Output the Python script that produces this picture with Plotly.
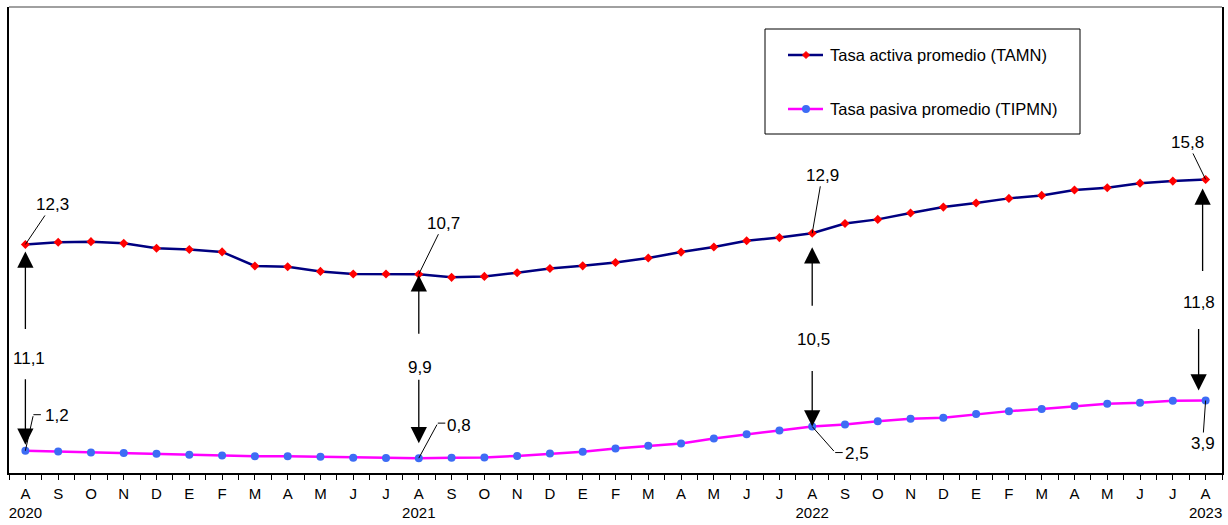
import plotly.graph_objects as go

# data
MONTHS = ["A", "S", "O", "N", "D", "E", "F", "M", "A", "M", "J", "J"] * 3 + ["A"]
YEARS = {0: "2020", 12: "2021", 24: "2022", 36: "2023"}

TAMN = [12.3, 12.42, 12.45, 12.36, 12.10, 12.03, 11.90, 11.14, 11.10, 10.85, 10.71, 10.71,
        10.7, 10.53, 10.58, 10.78, 11.01, 11.15, 11.33, 11.57, 11.89, 12.16, 12.50, 12.67,
        12.9, 13.43, 13.65, 13.99, 14.31, 14.53, 14.78, 14.94, 15.23, 15.35, 15.60, 15.71,
        15.8]
TIPMN = [1.2, 1.16, 1.11, 1.07, 1.03, 0.98, 0.94, 0.90, 0.90, 0.87, 0.82, 0.81,
         0.8, 0.82, 0.84, 0.92, 1.05, 1.14, 1.32, 1.46, 1.59, 1.86, 2.09, 2.29,
         2.5, 2.61, 2.78, 2.92, 2.97, 3.17, 3.33, 3.44, 3.60, 3.73, 3.78, 3.89,
         3.9]

# annotated points: index, active label, passive label, spread label
MARKS = [
    (0, "12,3", "1,2", "11,1"),
    (12, "10,7", "0,8", "9,9"),
    (24, "12,9", "2,5", "10,5"),
    (36, "15,8", "3,9", "11,8"),
]

NAME_A = "Tasa activa promedio (TAMN)"
NAME_P = "Tasa pasiva promedio (TIPMN)"

NAVY = "#000080"
MAGENTA = "#ff00ff"
RED = "#ff0000"
BLUE = "#3d6cf5"
FONT = "Liberation Sans, Arial, sans-serif"
LBL = 17

W, H = 1228, 525
ML, MR, MT, MB = 9, 6, 7, 52
PW, PH = W - ML - MR, H - MT - MB

x = list(range(len(MONTHS)))
ticktext = [m + ("<br>" + YEARS[i] if i in YEARS else "") for i, m in enumerate(MONTHS)]

fig = go.Figure()

fig.add_trace(go.Scatter(
    x=x, y=TAMN, mode="lines+markers", name=NAME_A,
    line=dict(color=NAVY, width=2.5),
    marker=dict(symbol="diamond", size=7, color=RED),
    showlegend=False,
))
fig.add_trace(go.Scatter(
    x=x, y=TIPMN, mode="lines+markers", name=NAME_P,
    line=dict(color=MAGENTA, width=2.5),
    marker=dict(symbol="circle", size=8, color=BLUE),
    showlegend=False,
))

anns = []


def label(i, v, text, dx, dy):
    # value label with a thin leader line to the point
    anns.append(dict(x=i, y=v, text=text, showarrow=True, arrowhead=0,
                     arrowwidth=1, arrowcolor="black", ax=dx, ay=dy,
                     font=dict(size=LBL, color="black", family=FONT)))


def elbow_label(i, v, text, ex, ey, tx, ty):
    # leader with a short horizontal piece, then the text
    anns.append(dict(x=i, y=v, text="", showarrow=True, arrowhead=0,
                     arrowwidth=1, arrowcolor="black", ax=ex, ay=ey, standoff=0))
    anns.append(dict(x=i, y=v, text="", showarrow=True, arrowhead=0,
                     arrowwidth=1, arrowcolor="black", ax=9, ay=0,
                     xshift=ex, yshift=-ey))
    anns.append(dict(x=i, y=v, text=text, showarrow=False, xshift=tx, yshift=-ty,
                     font=dict(size=LBL, color="black", family=FONT)))


def arrow(i, v, dy, standoff, dx=0):
    anns.append(dict(x=i, y=v, text="", showarrow=True, arrowhead=2,
                     arrowsize=2.5, arrowwidth=1.3, arrowcolor="black",
                     ax=0, ay=dy, standoff=standoff, xshift=dx))


def spread(i, v, text, dx, dy):
    anns.append(dict(x=i, y=v, text=text, showarrow=False, xshift=dx, yshift=-dy,
                     font=dict(size=LBL, color="black", family=FONT)))


# active rate labels
label(0, TAMN[0], MARKS[0][1], 27, -40)
label(12, TAMN[12], MARKS[1][1], 25, -51)
label(24, TAMN[24], MARKS[2][1], 10, -58)
label(36, TAMN[36], MARKS[3][1], -18, -37)

# passive rate labels
elbow_label(0, TIPMN[0], MARKS[0][2], 8, -36, 32, -35)
elbow_label(12, TIPMN[12], MARKS[1][2], 19, -35, 40, -33)
elbow_label(24, TIPMN[24], MARKS[2][2], 23, 26, 45, 27)
label(36, TIPMN[36], MARKS[3][2], -3, 43)

# spread arrows
arrow(0, TAMN[0], 86, 7)
arrow(0, TIPMN[0], -73, 6)
arrow(12, TAMN[12], 61, 1)
arrow(12, TIPMN[12], -80, 15)
arrow(24, TAMN[24], 74, 14)
arrow(24, TIPMN[24], -57, 0)
arrow(36, TAMN[36], 93, 9, -3)
arrow(36, TIPMN[36], -73, 10, -7)

spread(0, TAMN[0], MARKS[0][3], 4, 114)
spread(12, TAMN[12], MARKS[1][3], 1, 93)
spread(24, TAMN[24], MARKS[2][3], 1, 106)
spread(36, TAMN[36], MARKS[3][3], -7, 123)


def px(xp):
    return (xp - ML) / PW


def py(yp):
    return (H - MB - yp) / PH


# legend drawn by hand to match the boxed layout
rows = [(py(55), NAVY, NAME_A), (py(109), MAGENTA, NAME_P)]
shapes = [
    dict(type="rect", xref="paper", yref="paper", x0=px(765), x1=px(1080), y0=py(134), y1=py(29),
         line=dict(color="black", width=1), fillcolor="white", layer="above"),
    dict(type="line", xref="paper", yref="paper", x0=0, x1=1, y0=1, y1=1,
         line=dict(color="#808080", width=1.5)),
]
for ry, color, name in rows:
    shapes.append(dict(type="line", xref="paper", yref="paper",
                       x0=px(788), x1=px(823), y0=ry, y1=ry,
                       line=dict(color=color, width=2.5), layer="above"))
    anns.append(dict(x=px(828), y=ry, xref="paper", yref="paper", text=name,
                     showarrow=False, xanchor="left", yanchor="middle",
                     font=dict(size=16.5, color="black", family=FONT)))

mx, my1, my2 = px(806), rows[0][0], rows[1][0]
dxp, dyp = 3.5 / PW, 3.5 / PH
shapes.append(dict(type="path", xref="paper", yref="paper",
                   path=f"M {mx - dxp} {my1} L {mx} {my1 + dyp} L {mx + dxp} {my1} L {mx} {my1 - dyp} Z",
                   fillcolor=RED, line=dict(color=RED, width=1), layer="above"))
shapes.append(dict(type="circle", xref="paper", yref="paper",
                   x0=mx - 4 / PW, x1=mx + 4 / PW, y0=my2 - 4 / PH, y1=my2 + 4 / PH,
                   fillcolor=BLUE, line=dict(color=BLUE, width=0), layer="above"))

fig.update_layout(
    width=W, height=H,
    margin=dict(l=ML, r=MR, t=MT, b=MB, autoexpand=False),
    paper_bgcolor="white", plot_bgcolor="white",
    showlegend=False,
    annotations=anns,
    shapes=shapes,
)

fig.update_xaxes(
    range=[-0.5, 36.5],
    tickmode="array", tickvals=x, ticktext=ticktext,
    ticks="outside", ticklen=5, tickcolor="black", tickwidth=1,
    minor=dict(tickmode="linear", tick0=0.5, dtick=1, ticks="outside",
               ticklen=5, tickcolor="black", tickwidth=1),
    ticklabelstandoff=1,
    tickfont=dict(size=15, color="black", family=FONT),
    showline=True, linecolor="black", linewidth=1.5,
    showgrid=False, zeroline=False, automargin=False,
)
fig.update_yaxes(
    range=[0, 25.08],
    showticklabels=False, ticks="",
    showline=True, linecolor="black", linewidth=1.5, mirror=True,
    showgrid=False, zeroline=False, automargin=False,
)

# page body margin would push the 1228x525 figure off the window
fig.write_html("out.html", config={"displayModeBar": False},
               post_script="document.body.style.margin='0';")
